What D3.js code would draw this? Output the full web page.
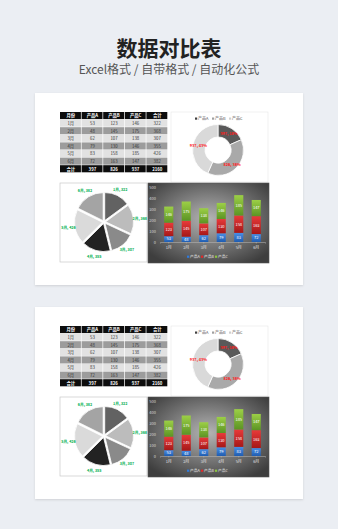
<!DOCTYPE html>
<html><head><meta charset="utf-8">
<script src="https://cdn.jsdelivr.net/npm/d3@7"></script>
<style>
html,body{margin:0;padding:0;background:#ebeef3;}
svg{display:block;font-family:"Noto Sans CJK SC","Noto Sans",sans-serif;}
</style></head>
<body><svg id="c" width="338" height="529"></svg>
<script>
const months = ["1月","2月","3月","4月","5月","6月"];
const headers = ["月份","产品A","产品B","产品C","合计"];
const productNames = ["产品A","产品B","产品C"];
const valuesA = [53,48,62,79,83,72];
const valuesB = [123,145,107,130,158,163];
const valuesC = [146,175,138,146,185,147];
const totalsByMonth = [322,368,307,355,426,382];
const totalsByProduct = [397,826,937];
const grandTotal = 2160;
const yTicks = [0,100,200,300,400,500];

const svg = d3.select("#c");
const defs = svg.append("defs");
const rg = defs.append("radialGradient").attr("id","bgGrad").attr("cx","50%").attr("cy","45%").attr("r","65%");
rg.append("stop").attr("offset","0%").attr("stop-color","#b4b4b4");
rg.append("stop").attr("offset","100%").attr("stop-color","#3e3e3e");
const serColors = [["#4a8fe6","#1f5cb0"],["#e83a3a","#a51818"],["#9ccf46","#5c9424"]];
serColors.forEach((c,i)=>{
  const lg = defs.append("linearGradient").attr("id","sg"+i).attr("x1",0).attr("y1",0).attr("x2",0).attr("y2",1);
  lg.append("stop").attr("offset","0%").attr("stop-color",c[0]);
  lg.append("stop").attr("offset","100%").attr("stop-color",c[1]);
});
const sh = defs.append("filter").attr("id","shadow").attr("x","-5%").attr("y","-5%").attr("width","110%").attr("height","110%");
sh.append("feDropShadow").attr("dx",0).attr("dy",1).attr("stdDeviation",1.2).attr("flood-color","#000").attr("flood-opacity",0.12);

// Title
svg.append("text").attr("x",169).attr("y",56).attr("text-anchor","middle")
  .attr("font-size",21).attr("font-weight",700).attr("fill","#222").text("数据对比表");
svg.append("text").attr("x",169).attr("y",74).attr("text-anchor","middle")
  .attr("font-size",12).attr("fill","#555").text("Excel格式 / 自带格式 / 自动化公式");

function drawCard(oy){
  const g = svg.append("g").attr("transform",`translate(0,${oy})`);
  g.append("rect").attr("x",35).attr("y",93).attr("width",268).attr("height",192)
    .attr("fill","#fff").attr("filter","url(#shadow)");

  // ---- Table ----
  const tx = 60, ty = 112, cw = 21.6, rh = 7.6;
  const rows = [headers];
  months.forEach((m,i)=>rows.push([m,valuesA[i],valuesB[i],valuesC[i],totalsByMonth[i]]));
  rows.push(["合计",...totalsByProduct,grandTotal]);
  const tg = g.append("g");
  rows.forEach((r,ri)=>{
    const isDark = ri===0 || ri===rows.length-1;
    const fill = isDark ? "#0d0d0d" : (ri%2===1 ? "#e2e2e2" : "#9c9c9c");
    r.forEach((v,ci)=>{
      tg.append("rect").attr("x",tx+ci*cw).attr("y",ty+ri*rh).attr("width",cw-0.7).attr("height",rh-0.5).attr("fill",fill);
      tg.append("text").attr("x",tx+ci*cw+cw/2).attr("y",ty+ri*rh+rh/2+1.5)
        .attr("text-anchor","middle").attr("font-size",4.3)
        .attr("font-weight",isDark?700:400)
        .attr("fill",isDark?"#fff":"#333").text(v);
    });
  });

  // ---- Donut ----
  const dp = g.append("g");
  dp.append("rect").attr("x",171).attr("y",112).attr("width",97).attr("height",70)
    .attr("fill","#fff").attr("stroke","#e6e6e6").attr("stroke-width",0.6);
  const donutColors = ["#595959","#a9a9a9","#d9d9d9"];
  productNames.forEach((n,i)=>{
    const lx = 195 + i*17;
    dp.append("rect").attr("x",lx).attr("y",117.5).attr("width",2.2).attr("height",2.2).attr("fill",["#404040","#a0a0a0","#cfcfcf"][i]);
    dp.append("text").attr("x",lx+3).attr("y",119.8).attr("font-size",4).attr("fill","#555").text(n);
  });
  const dc = dp.append("g").attr("transform","translate(218,150)");
  const dpie = d3.pie().sort(null).value(d=>d)(totalsByProduct);
  const darc = d3.arc().innerRadius(13).outerRadius(25.5);
  dc.selectAll("path").data(dpie).join("path").attr("d",darc)
    .attr("fill",(d,i)=>donutColors[i]).attr("stroke","#fff").attr("stroke-width",0.8);
  const dlArc = d3.arc().innerRadius(14).outerRadius(26);
  dc.selectAll("text").data(dpie).join("text")
    .attr("transform",d=>{const c=dlArc.centroid(d);return `translate(${c[0]},${c[1]+1.4})`;})
    .attr("text-anchor","middle").attr("font-size",3.9).attr("font-weight",700).attr("fill","#ff1a1a")
    .text(d=>`${d.data}, ${Math.round(d.data/grandTotal*100)}%`);

  // ---- Pie ----
  const pp = g.append("g");
  pp.append("rect").attr("x",60).attr("y",183).attr("width",87).attr("height",79)
    .attr("fill","#fff").attr("stroke","#c8c8c8").attr("stroke-width",0.7);
  const pieColors = ["#626262","#bcbcbc","#8a8a8a","#222222","#dadada","#a4a4a4"];
  const pc = pp.append("g").attr("transform","translate(104,222)");
  const ppie = d3.pie().sort(null).value(d=>d)(totalsByMonth);
  const parc = d3.arc().innerRadius(0).outerRadius(28);
  pc.selectAll("path").data(ppie).join("path").attr("d",parc)
    .attr("transform",d=>{const a=(d.startAngle+d.endAngle)/2;return `translate(${1.6*Math.sin(a)},${-1.6*Math.cos(a)})`;})
    .attr("fill",(d,i)=>pieColors[i]).attr("stroke","#fff").attr("stroke-width",0.8);
  pc.selectAll("text").data(ppie).join("text")
    .attr("transform",d=>{const a=(d.startAngle+d.endAngle)/2;return `translate(${36*Math.sin(a)},${-36.5*Math.cos(a)+1.3})`;})
    .attr("text-anchor","middle").attr("font-size",3.7).attr("font-weight",700).attr("fill","#00b050")
    .text((d,i)=>`${months[i]}, ${d.data}`);

  // ---- Stacked bar ----
  const bp = g.append("g");
  bp.append("rect").attr("x",148).attr("y",183).attr("width",121).attr("height",80)
    .attr("fill","url(#bgGrad)").attr("stroke","#555").attr("stroke-width",0.6);
  const x = d3.scaleBand().domain(months).range([160,265]).paddingInner(0.48).paddingOuter(0.24);
  const y = d3.scaleLinear().domain([0,500]).range([242,187]);
  const yAxis = d3.axisLeft(y).tickValues(yTicks).tickSize(0).tickPadding(3);
  const ya = bp.append("g").attr("transform","translate(159,0)").call(yAxis);
  ya.select(".domain").remove();
  ya.selectAll("text").attr("font-size",4).attr("fill","#d8d8d8").attr("font-family","'Noto Sans CJK SC',sans-serif");
  const xAxis = d3.axisBottom(x).tickSize(1.5).tickPadding(3);
  const xa = bp.append("g").attr("transform","translate(0,242)").call(xAxis);
  xa.select(".domain").attr("stroke","#bdbdbd").attr("stroke-width",0.5);
  xa.selectAll("line").attr("stroke","#bdbdbd").attr("stroke-width",0.5);
  xa.selectAll("text").attr("font-size",4).attr("fill","#e0e0e0").attr("font-family","'Noto Sans CJK SC',sans-serif");
  const stackData = months.map((m,i)=>({m,A:valuesA[i],B:valuesB[i],C:valuesC[i]}));
  const series = d3.stack().keys(["A","B","C"])(stackData);
  series.forEach((s,si)=>{
    const sg = bp.append("g");
    sg.selectAll("rect").data(s).join("rect")
      .attr("x",d=>x(d.data.m)).attr("width",x.bandwidth())
      .attr("y",d=>y(d[1])).attr("height",d=>y(d[0])-y(d[1]))
      .attr("fill",`url(#sg${si})`);
    sg.selectAll("text").data(s).join("text")
      .attr("x",d=>x(d.data.m)+x.bandwidth()/2).attr("y",d=>(y(d[0])+y(d[1]))/2+1.4)
      .attr("text-anchor","middle").attr("font-size",4).attr("fill","#fff")
      .text(d=>d[1]-d[0]);
  });
  const legColors = ["#2f7bdc","#e02828","#8cc63f"];
  productNames.forEach((n,i)=>{
    const lx = 187 + i*14;
    bp.append("rect").attr("x",lx).attr("y",255.6).attr("width",2.2).attr("height",2.2).attr("fill",legColors[i]);
    bp.append("text").attr("x",lx+3).attr("y",258).attr("font-size",3.8).attr("fill","#e8e8e8").text(n);
  });
}
drawCard(0);
drawCard(214);
</script></body></html>
